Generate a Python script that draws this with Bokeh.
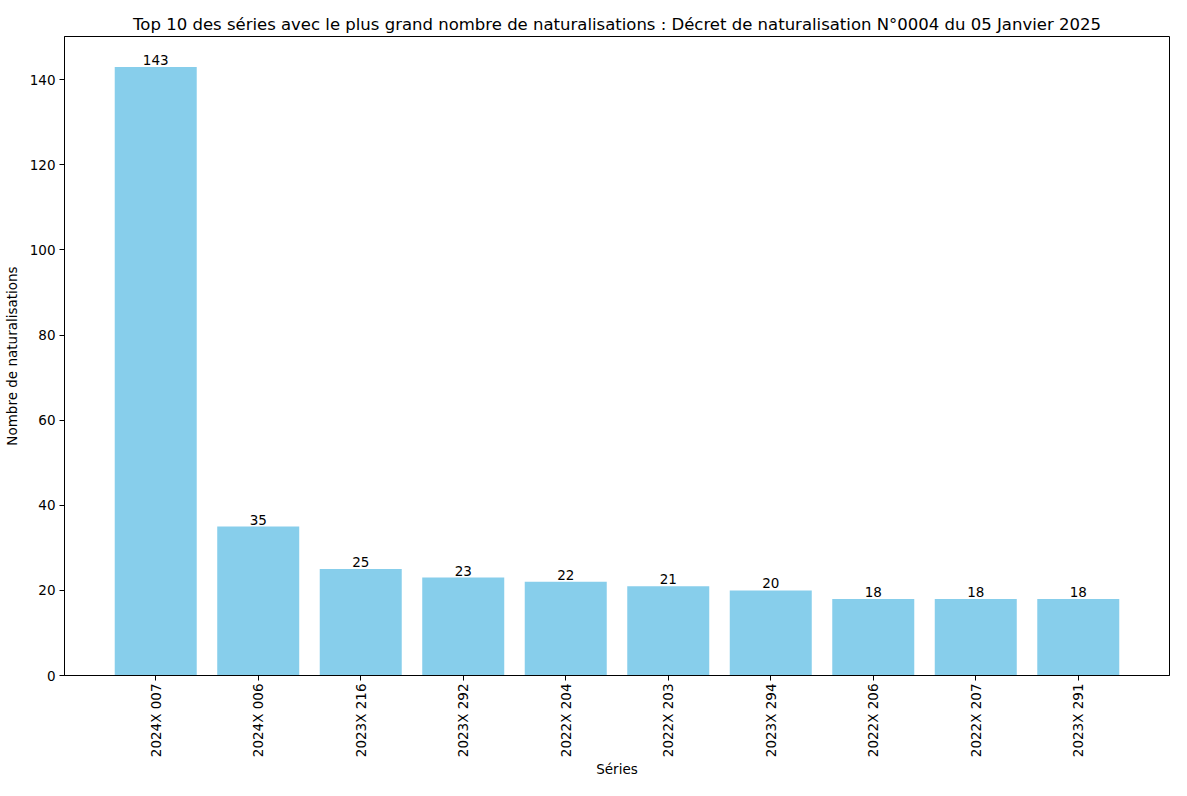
import math
from bokeh.plotting import figure
from bokeh.models import ColumnDataSource, FixedTicker, Range1d
from bokeh.embed import file_html
from bokeh.resources import INLINE
from bokeh.core.properties import value

series = ["2024X 007", "2024X 006", "2023X 216", "2023X 292", "2022X 204",
          "2022X 203", "2023X 294", "2022X 206", "2022X 207", "2023X 291"]
counts = [143, 35, 25, 23, 22, 21, 20, 18, 18, 18]
y_ticks = [0, 20, 40, 60, 80, 100, 120, 140]

FONT = "DejaVu Sans"
idx = list(range(len(series)))
src = ColumnDataSource(dict(x=idx, top=counts, label=[str(c) for c in counts]))

p = figure(width=1171, height=780, output_backend="svg", toolbar_location=None,
           x_range=Range1d(-0.89, len(series) - 1 + 0.89),
           y_range=Range1d(0, max(counts) * 1.05),
           title="Top 10 des séries avec le plus grand nombre de naturalisations : Décret de naturalisation N°0004 du 05 Janvier 2025",
           min_border_left=56, min_border_right=2, min_border_top=36, min_border_bottom=103)

p.vbar(x="x", top="top", width=0.8, source=src, fill_color="#87CEEB", line_color=None)
p.text(x="x", y="top", text="label", source=src, text_align="center", text_baseline="bottom",
       y_offset=-2, text_font=value(FONT), text_font_size="13.5px", text_color="black")

p.title.align = "center"
p.title.text_font = FONT
p.title.text_font_size = "16.5px"
p.title.text_font_style = "normal"
p.title.text_color = "black"
p.title.standoff = 6

p.xgrid.visible = False
p.ygrid.visible = False
p.outline_line_color = "black"
p.outline_line_width = 1
p.background_fill_color = "white"
p.border_fill_color = "white"

p.xaxis.ticker = FixedTicker(ticks=idx)
p.xaxis.major_label_overrides = {i: s for i, s in enumerate(series)}
p.xaxis.major_label_orientation = math.pi / 2
p.yaxis.ticker = FixedTicker(ticks=y_ticks)

for ax in (p.xaxis, p.yaxis):
    ax.major_label_text_font = FONT
    ax.major_label_text_font_size = "13.5px"
    ax.major_label_text_color = "black"
    ax.axis_label_text_font = FONT
    ax.axis_label_text_font_size = "13.5px"
    ax.axis_label_text_font_style = "normal"
    ax.axis_label_text_color = "black"
    ax.major_tick_in = 0
    ax.major_tick_out = 5
    ax.minor_tick_out = 0
    ax.minor_tick_in = 0
    ax.axis_line_color = "black"
    ax.major_tick_line_color = "black"
    ax.major_label_standoff = 4

p.xaxis.major_label_standoff = 3
p.xaxis.axis_label = "Séries"
p.yaxis.axis_label = "Nombre de naturalisations"
p.xaxis.axis_label_standoff = 1
p.yaxis.axis_label_standoff = 7

open("out.html", "w").write(file_html(p, INLINE))
